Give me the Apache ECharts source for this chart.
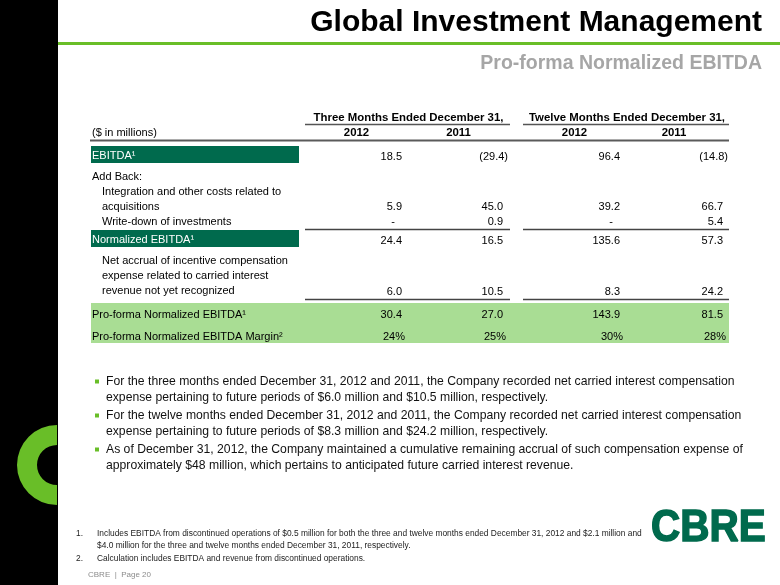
<!DOCTYPE html>
<html>
<head>
<meta charset="utf-8">
<script src="https://cdn.jsdelivr.net/npm/echarts@6/dist/echarts.min.js"></script>
<style>
  html, body { margin: 0; padding: 0; background: #fff; }
  #chart { width: 780px; height: 585px; }
</style>
</head>
<body>
<div id="chart"></div>
<script>
// ---------------- DATA ----------------
const slideTitle = 'Global Investment Management';
const slideSubtitle = 'Pro-forma Normalized EBITDA';
const periodHeaders = ['Three Months Ended December 31,', 'Twelve Months Ended December 31,'];
const yearHeaders = ['2012', '2011', '2012', '2011'];
const unitLabel = '($ in millions)';

const ebitda           = [18.5, -29.4, 96.4, -14.8];
const integrationCosts = [5.9, 45.0, 39.2, 66.7];
const writeDown        = [null, 0.9, null, 5.4];
const normalizedEbitda = [24.4, 16.5, 135.6, 57.3];
const netAccrual       = [6.0, 10.5, 8.3, 24.2];
const proformaEbitda   = [30.4, 27.0, 143.9, 81.5];
const proformaMargin   = [24, 25, 30, 28];

const bullets = [
  ['For the three months ended December 31, 2012 and 2011, the Company recorded net carried interest compensation',
   'expense pertaining to future periods of $6.0 million and $10.5 million, respectively.'],
  ['For the twelve months ended December 31, 2012 and 2011, the Company recorded net carried interest compensation',
   'expense pertaining to future periods of $8.3 million and $24.2 million, respectively.'],
  ['As of December 31, 2012, the Company maintained a cumulative remaining accrual of such compensation expense of',
   'approximately $48 million, which pertains to anticipated future carried interest revenue.']
];
const footnotes = [
  ['Includes EBITDA from discontinued operations of $0.5 million for both the three and twelve months ended December 31, 2012 and $2.1 million and',
   '$4.0 million for the three and twelve months ended December 31, 2011, respectively.'],
  ['Calculation includes EBITDA and revenue from discontinued operations.']
];
const pageLabel = 'CBRE  |  Page 20';
const logoText = 'CBRE';

// ---------------- LAYOUT ----------------
const FONT = '"Liberation Sans", Arial, sans-serif';
const DARK_GREEN = '#006A4D';
const LIGHT_GREEN = '#A9DD94';
const BRIGHT_GREEN = '#69BE28';
const colRight = [402, 503, 620, 723];
const yearCenters = [356.5, 458.5, 574.5, 674];
const groupSpans = [[305, 510], [523, 729]];

const els = [];
function txt(text, x, y, font, fill, align, extra) {
  const o = {
    type: 'text', x: x, y: y, silent: true,
    style: { text: text, font: font, fill: fill || '#000',
      textAlign: align || 'left', align: align || 'left',
      textVerticalAlign: 'middle', verticalAlign: 'middle' }
  };
  if (extra) Object.assign(o, extra);
  els.push(o);
}
function rect(x, y, w, h, fill) {
  els.push({ type: 'rect', silent: true, shape: { x: x, y: y, width: w, height: h }, style: { fill: fill } });
}
function hline(x1, x2, y, color, w) {
  els.push({ type: 'line', silent: true, shape: { x1: x1, y1: y, x2: x2, y2: y }, style: { stroke: color, lineWidth: w } });
}

// left black band with green "C"
rect(0, 0, 58, 585, '#000');
els.push({ type: 'sector', silent: true,
  shape: { cx: 57, cy: 465, r: 40, r0: 20, startAngle: Math.PI / 2, endAngle: Math.PI * 1.5 },
  style: { fill: BRIGHT_GREEN } });

// title area
txt(slideTitle, 762, 23, 'bold 30px ' + FONT, '#000', 'right');
rect(58, 42, 722, 3, BRIGHT_GREEN);
txt(slideSubtitle, 762, 64, 'bold 19.5px ' + FONT, '#A6A6A6', 'right');

// table header
const BOLD = 'bold 11.4px ' + FONT;
const REG = '11px ' + FONT;
periodHeaders.forEach(function (p, i) {
  const s = groupSpans[i];
  txt(p, (s[0] + s[1]) / 2 + 1, 117.5, BOLD, '#000', 'center');
  hline(s[0], s[1], 124.5, '#555', 1.3);
});
yearHeaders.forEach(function (y, i) { txt(y, yearCenters[i], 133, BOLD, '#000', 'center'); });
txt(unitLabel, 92, 133, REG, '#000', 'left');
hline(90, 729, 140.5, '#5a5a5a', 2.2);

// shaded boxes
rect(91, 146, 208, 17, DARK_GREEN);
rect(91, 230, 208, 17, DARK_GREEN);
rect(91, 303, 638, 40, LIGHT_GREEN);

// row labels
txt('EBITDA\u00B9', 92, 156, REG, '#fff');
txt('Add Back:', 92, 177, REG);
txt('Integration and other costs related to', 102, 192, REG);
txt('acquisitions', 102, 207, REG);
txt('Write-down of investments', 102, 222, REG);
txt('Normalized EBITDA\u00B9', 92, 240, REG, '#fff');
txt('Net accrual of incentive compensation', 102, 261, REG);
txt('expense related to carried interest', 102, 276, REG);
txt('revenue not yet recognized', 102, 291, REG);
txt('Pro-forma Normalized EBITDA\u00B9', 92, 315, REG);
txt('Pro-forma Normalized EBITDA Margin\u00B2', 92, 337, REG);

// subtotal rules
[229.5, 299.5].forEach(function (y) {
  groupSpans.forEach(function (s) { hline(s[0], s[1], y, '#444', 1.3); });
});

// values
function putRow(arr, y, isPct) {
  arr.forEach(function (v, i) {
    let s, dx = 0;
    if (v === null) { s = '-'; dx = -7; }
    else if (isPct) { s = v + '%'; dx = 3; }
    else if (v < 0) { s = '(' + Math.abs(v).toFixed(1) + ')'; dx = 5; }
    else { s = v.toFixed(1); }
    txt(s, colRight[i] + dx, y, REG, '#000', 'right');
  });
}
putRow(ebitda, 156.5);
putRow(integrationCosts, 207);
putRow(writeDown, 222);
putRow(normalizedEbitda, 240.5);
putRow(netAccrual, 292);
putRow(proformaEbitda, 315);
putRow(proformaMargin, 337, true);

// bullets
const BUL = '12.2px ' + FONT;
const bulletY = [[382, 398], [416, 432], [450, 466]];
bullets.forEach(function (b, i) {
  rect(95, bulletY[i][0] - 2.5, 4, 4, BRIGHT_GREEN);
  b.forEach(function (line, j) { txt(line, 106, bulletY[i][j], BUL, '#111'); });
});

// footnotes
const FN = '8.4px ' + FONT;
const fnY = [[534, 546], [559]];
footnotes.forEach(function (f, i) {
  txt((i + 1) + '.', 76, fnY[i][0], FN, '#222');
  f.forEach(function (line, j) { txt(line, 97, fnY[i][j], FN, '#222'); });
});
txt(pageLabel, 88, 575, '8px ' + FONT, '#8C8C8C');

// logo
els.push({ type: 'text', x: 651, y: 529, scaleX: 0.92, silent: true,
  style: { text: logoText, font: 'bold 44px ' + FONT, fill: DARK_GREEN, stroke: DARK_GREEN, lineWidth: 1.5,
    textAlign: 'left', align: 'left', textVerticalAlign: 'middle', verticalAlign: 'middle' } });

const chart = echarts.init(document.getElementById('chart'), null, { renderer: 'canvas' });
chart.setOption({ animation: false, backgroundColor: '#fff', graphic: { elements: els } });
</script>
</body>
</html>
